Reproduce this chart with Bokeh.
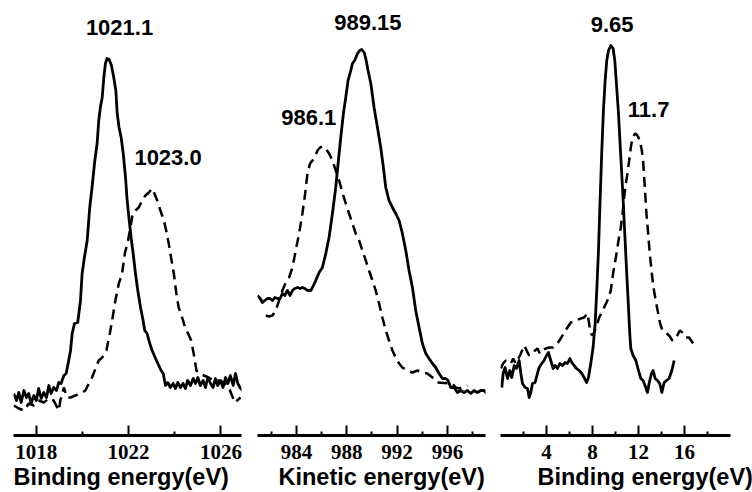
from bokeh.plotting import figure
from bokeh.layouts import row
from bokeh.models import Range1d, FixedTicker, Label, Title
from bokeh.embed import file_html
from bokeh.resources import INLINE

# ---------------- data (intensity in arbitrary units) ----------------
# Panel 1: Binding energy 1017-1027 eV
p1_solid_x = [1017.03, 1017.15, 1017.25, 1017.35, 1017.47, 1017.58, 1017.68, 1017.78, 1017.90, 1018.01,
              1018.11, 1018.22, 1018.33, 1018.45, 1018.55, 1018.65, 1018.76, 1018.88, 1018.98, 1019.08,
              1019.20, 1019.30, 1019.41, 1019.49, 1019.56, 1019.66, 1019.80, 1019.92, 1019.99, 1020.09,
              1020.21, 1020.32, 1020.42, 1020.54, 1020.64, 1020.71, 1020.78, 1020.86, 1020.93, 1021.00,
              1021.07, 1021.16, 1021.26, 1021.36, 1021.45, 1021.51, 1021.59, 1021.68, 1021.77, 1021.87,
              1021.94, 1022.03, 1022.11, 1022.20, 1022.30, 1022.40, 1022.52, 1022.63, 1022.70, 1022.80,
              1022.92, 1023.02, 1023.17, 1023.31, 1023.41, 1023.50, 1023.60, 1023.70, 1023.81, 1023.93,
              1024.03, 1024.13, 1024.25, 1024.36, 1024.46, 1024.56, 1024.68, 1024.80, 1024.90, 1025.00,
              1025.11, 1025.23, 1025.33, 1025.43, 1025.55, 1025.66, 1025.76, 1025.86, 1025.98, 1026.09,
              1026.20, 1026.30, 1026.41, 1026.53, 1026.63, 1026.73, 1026.85, 1026.95]
p1_solid_y = [43, 36, 44, 34, 46, 39, 43, 33, 41, 36,
              48, 38, 44, 39, 51, 43, 49, 46, 54, 53,
              61, 63, 76, 86, 103, 113, 114, 136, 163, 179,
              196, 229, 249, 276, 293, 316, 329, 339, 359, 373,
              378, 377, 371, 359, 346, 323, 309, 299, 283, 259,
              236, 216, 199, 183, 163, 146, 129, 116, 106, 103,
              93, 86, 78, 71, 66, 63, 51, 54, 49, 53,
              48, 54, 49, 53, 48, 56, 51, 58, 53, 59,
              51, 56, 49, 59, 53, 49, 58, 51, 56, 49,
              59, 53, 61, 51, 63, 53, 48, 46]
p1_dash_x = [1017.03, 1017.25, 1017.47, 1017.68, 1017.90, 1018.11, 1018.33, 1018.55, 1018.76, 1018.98,
             1019.05, 1019.20, 1019.34, 1019.49, 1019.70, 1019.92, 1020.13, 1020.28, 1020.42, 1020.57,
             1020.71, 1020.86, 1021.04, 1021.19, 1021.29, 1021.43, 1021.58, 1021.72, 1021.84, 1021.98,
             1022.08, 1022.18, 1022.30, 1022.44, 1022.59, 1022.73, 1022.88, 1023.02, 1023.12, 1023.24,
             1023.38, 1023.53, 1023.63, 1023.74, 1023.84, 1023.96, 1024.07, 1024.17, 1024.32, 1024.46,
             1024.58, 1024.71, 1024.82, 1024.94, 1025.08, 1025.26, 1025.47, 1025.69, 1025.91, 1026.12,
             1026.34, 1026.48, 1026.60, 1026.70, 1026.85]
p1_dash_y = [31, 28, 26, 33, 31, 36, 34, 38, 36, 26,
             36, 49, 39, 39, 41, 43, 46, 53, 59, 68,
             76, 79, 86, 103, 116, 136, 153, 163, 183, 196,
             209, 223, 226, 229, 236, 241, 244, 248, 243, 236,
             226, 216, 206, 193, 179, 163, 143, 129, 119, 108,
             103, 96, 83, 66, 63, 61, 59, 56, 56, 54,
             49, 41, 34, 36, 39]

# Panel 2: Kinetic energy 981-999 eV
p2_solid_x = [980.90, 981.11, 981.29, 981.48, 981.69, 981.90, 982.09, 982.28, 982.49, 982.70,
              982.88, 983.07, 983.28, 983.49, 983.68, 983.86, 984.08, 984.29, 984.47, 984.66,
              984.87, 985.14, 985.27, 985.53, 985.80, 986.06, 986.33, 986.59, 986.86, 987.12,
              987.31, 987.52, 987.73, 987.92, 988.10, 988.32, 988.45, 988.63, 988.85, 989.03,
              989.19, 989.38, 989.51, 989.69, 989.91, 990.17, 990.44, 990.70, 990.91, 991.10,
              991.36, 991.63, 991.89, 992.16, 992.42, 992.69, 992.95, 993.22, 993.48, 993.75,
              994.01, 994.28, 994.54, 994.81, 995.07, 995.34, 995.60, 995.87, 996.05, 996.27,
              996.53, 996.80, 997.06, 997.33, 997.59, 997.86, 998.12, 998.39, 998.65, 998.92, 999.13]
p2_solid_y = [141, 138, 134, 136, 138, 138, 136, 139, 138, 138,
              143, 141, 146, 141, 146, 148, 149, 148, 149, 148,
              146, 146, 149, 156, 164, 169, 183, 199, 223, 249,
              273, 299, 323, 339, 356, 366, 373, 376, 383, 386,
              387, 384, 378, 366, 353, 329, 309, 289, 269, 249,
              236, 229, 223, 216, 203, 186, 166, 149, 126, 109,
              93, 83, 78, 73, 69, 63, 58, 58, 56, 49,
              49, 44, 46, 44, 46, 43, 46, 44, 46, 46, 43]
p2_dash_x = [981.56, 981.82, 982.09, 982.35, 982.62, 982.88, 983.15, 983.41, 983.68, 983.94,
             984.21, 984.47, 984.69, 984.87, 985.08, 985.27, 985.45, 985.67, 985.88, 986.06,
             986.33, 986.59, 986.86, 987.12, 987.39, 987.65, 987.92, 988.18, 988.45, 988.71,
             988.98, 989.24, 989.51, 989.77, 990.04, 990.30, 990.57, 990.83, 991.10, 991.36,
             991.63, 991.89, 992.16, 992.42, 992.82, 993.22, 993.62, 994.01, 994.41, 994.81,
             995.07, 995.21, 996.40, 996.66, 996.93, 997.19, 997.59]
p2_dash_y = [121, 120, 121, 126, 136, 146, 154, 159, 169, 186,
             203, 223, 243, 263, 273, 276, 279, 286, 289, 290,
             288, 283, 276, 266, 256, 244, 233, 223, 213, 203,
             196, 186, 176, 166, 156, 146, 133, 119, 106, 96,
             86, 79, 73, 69, 66, 64, 66, 64, 63, 59,
             56, 54, 53, 49, 48, 49, 51]

# Panel 3: Binding energy 0-20 eV
p3_solid_x = [0.11, 0.23, 0.40, 0.61, 0.81, 0.98, 1.19, 1.39, 1.62, 1.77,
              1.91, 2.14, 2.35, 2.49, 2.63, 2.78, 3.01, 3.21, 3.36, 3.59,
              3.79, 4.00, 4.17, 4.37, 4.58, 4.75, 4.95, 5.16, 5.39, 5.62,
              5.82, 6.03, 6.20, 6.40, 6.61, 6.84, 7.07, 7.27, 7.48, 7.65,
              7.85, 8.05, 8.23, 8.37, 8.52, 8.66, 8.81, 8.95, 9.10, 9.24,
              9.39, 9.59, 9.79, 9.94, 10.08, 10.26, 10.43, 10.61, 10.78, 10.95,
              11.13, 11.24, 11.33, 11.53, 11.77, 12.00, 12.20, 12.40, 12.63, 12.78,
              12.92, 13.13, 13.27, 13.45, 13.65, 13.85, 14.03, 14.23, 14.43, 14.66,
              14.90, 15.10]
p3_solid_y = [49, 63, 69, 58, 66, 59, 71, 68, 76, 63,
              53, 49, 48, 39, 44, 53, 54, 63, 69, 73,
              76, 81, 84, 76, 68, 71, 68, 73, 71, 74,
              73, 78, 74, 71, 68, 66, 63, 59, 54, 59,
              73, 89, 113, 146, 186, 236, 286, 326, 356, 376,
              386, 391, 388, 376, 353, 323, 286, 249, 209, 169,
              129, 103, 88, 81, 76, 66, 58, 56, 49, 44,
              53, 63, 66, 58, 56, 53, 44, 54, 56, 58,
              66, 76]
p3_dash_x = [0.03, 0.23, 0.46, 0.69, 0.90, 1.10, 1.33, 1.56, 1.77, 2.06,
             2.49, 3.21, 3.42, 3.59, 3.94, 4.23, 4.58, 4.95, 5.24, 5.53,
             5.82, 6.11, 6.55, 6.98, 7.27, 7.56, 7.85, 8.00, 8.29, 8.58,
             8.81, 9.01, 9.30, 9.59, 9.79, 10.03, 10.26, 10.46, 10.61, 10.75,
             10.90, 11.04, 11.19, 11.33, 11.48, 11.71, 11.91, 12.11, 12.29, 12.40,
             12.55, 12.69, 12.84, 12.98, 13.16, 13.30, 13.50, 13.71, 13.88, 14.08,
             14.37, 14.66, 14.95, 15.24, 15.59, 15.82, 16.11, 16.40, 16.75]
p3_dash_y = [68, 73, 76, 74, 73, 78, 73, 78, 83, 91,
             81, 88, 83, 86, 88, 89, 89, 93, 98, 104,
             109, 114, 116, 118, 119, 123, 103, 101, 108, 119,
             124, 129, 136, 146, 163, 179, 196, 209, 223, 239,
             253, 263, 276, 289, 299, 303, 301, 296, 286, 276,
             249, 223, 203, 183, 163, 149, 136, 123, 113, 106,
             104, 101, 96, 98, 106, 104, 99, 99, 93]

# tick values
p1_ticks, p1_minor = [1018, 1022, 1026], [1020, 1024]
p2_ticks, p2_minor = [984, 988, 992, 996], [982, 986, 990, 994, 998]
p3_ticks, p3_minor = [4, 8, 12, 16], [2, 6, 10, 14, 18]

# peak annotations (text)
p1_peaks = ["1021.1", "1023.0"]
p2_peaks = ["989.15", "986.1"]
p3_peaks = ["9.65", "11.7"]

titles = ["Binding energy(eV)", "Kinetic energy(eV)", "Binding energy(eV)"]

# ---------------- layout / style ----------------
SANS = "Liberation Sans"
SERIF = "Liberation Serif"


def make_panel(width, bl, br, xr, ticks, minor, sx, sy, dx, dy,
               peaks, peak_pos, title, title_offset):
    p = figure(width=width, height=492, output_backend="svg", toolbar_location=None,
               x_range=Range1d(*xr), y_range=Range1d(1, 436), y_axis_location=None,
               min_border_left=bl, min_border_right=br, min_border_top=0,
               min_border_bottom=57)
    p.grid.visible = False
    p.outline_line_color = None
    p.background_fill_color = "white"
    p.border_fill_color = "white"
    p.line(sx, sy, line_color="black", line_width=2.8, line_join="round")
    p.line(dx, dy, line_color="black", line_width=2.5, line_dash="10 6")
    ax = p.xaxis[0]
    ax.ticker = FixedTicker(ticks=ticks, minor_ticks=minor)
    ax.axis_line_width = 3
    ax.axis_line_color = "black"
    ax.major_tick_line_width = 2
    ax.minor_tick_line_width = 2
    ax.major_tick_in = 10
    ax.major_tick_out = 0
    ax.minor_tick_in = 4
    ax.minor_tick_out = 0
    ax.major_label_text_font = SERIF
    ax.major_label_text_font_style = "bold"
    ax.major_label_text_font_size = "21px"
    ax.major_label_text_color = "black"
    ax.major_label_standoff = 9
    for txt, (lx, ly) in zip(peaks, peak_pos):
        p.add_layout(Label(x=lx, y=ly, text=txt, text_align="center",
                           text_baseline="alphabetic", text_font=SANS,
                           text_font_style="bold", text_font_size="22px",
                           text_color="black"))
    p.add_layout(Title(text=title, align="left", offset=title_offset, standoff=0,
                       text_font=SANS, text_font_style="bold",
                       text_font_size="23.5px", text_color="black"), "below")
    return p


f1 = make_panel(250, 13, 9, (1017.02, 1026.89), p1_ticks, p1_minor,
                p1_solid_x, p1_solid_y, p1_dash_x, p1_dash_y,
                p1_peaks, [(1021.61, 409), (1023.71, 279)], titles[0], 0)
f2 = make_panel(246, 7, 11, (980.9, 999.03), p2_ticks, p2_minor,
                p2_solid_x, p2_solid_y, p2_dash_x, p2_dash_y,
                p2_peaks, [(989.68, 414), (984.98, 319)], titles[1], 21)
f3 = make_panel(256, 4, 22, (0, 20), p3_ticks, p3_minor,
                p3_solid_x, p3_solid_y, p3_dash_x, p3_dash_y,
                p3_peaks, [(9.70, 412), (12.88, 327)], titles[2], 37)

layout = row(f1, f2, f3, spacing=0)
open("out.html", "w").write(file_html(layout, INLINE))
